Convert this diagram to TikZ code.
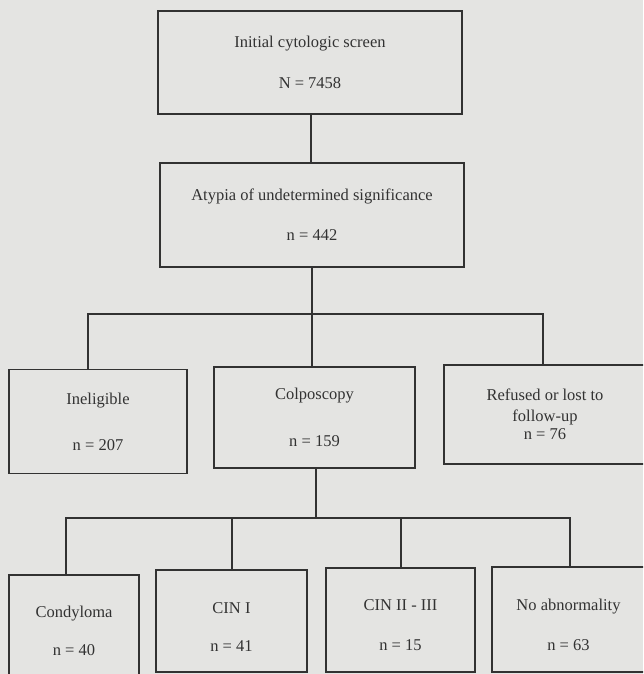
\documentclass[tikz,border=0pt]{standalone}
\usepackage{fontspec}
\setmainfont{Liberation Serif}
\definecolor{bgc}{RGB}{228,228,226}
\definecolor{ink}{RGB}{50,50,50}
\begin{document}
\begin{tikzpicture}[x=1pt,y=1pt,
  box/.style={draw=ink, line width=1.1pt, rectangle, inner sep=0pt, align=center,
    text=ink, font=\fontsize{16.5}{20}\selectfont},
  conn/.style={draw=ink, line width=1.3pt}]
\useasboundingbox (0,0) rectangle (643,-674);
\fill[bgc] (0,0) rectangle (643,-674);
\clip (0,0) rectangle (643,-674);
% top boxes
\node[box, minimum width=304, minimum height=103] (b1) at (310,-62.5)
  {Initial cytologic screen\\[21pt]N = 7458};
\node[box, minimum width=304, minimum height=104] (b2) at (312,-215)
  {Atypia of undetermined significance\\[20pt]n = 442};
% middle row
\node[box, minimum width=178, minimum height=104] (in) at (98,-421.5)
  {Ineligible\\[26pt]n = 207};
\node[box, minimum width=201, minimum height=101] (col) at (314.5,-417.5)
  {\rule{0pt}{4pt}Colposcopy\\[27pt]n = 159};
\node[box, minimum width=202, minimum height=99] (ref) at (545,-414.5)
  {Refused or lost to\\[1pt]follow-up\\[-2pt]n = 76};
% bottom row
\node[box, minimum width=130, minimum height=101] (con) at (74,-625.5)
  {\rule{0pt}{22pt}Condyloma\\[18pt]n = 40};
\node[box, minimum width=151, minimum height=102] (c1) at (231.5,-621)
  {\rule{0pt}{22pt}CIN I\\[18pt]n = 41};
\node[box, minimum width=149, minimum height=104] (c2) at (400.5,-620)
  {\rule{0pt}{22pt}CIN II - III\\[20pt]n = 15};
\node[box, minimum width=153, minimum height=105] (na) at (568.5,-619.5)
  {\rule{0pt}{22pt}No abnormality\\[20pt]n = 63};
% bus coordinates
\coordinate (busA) at (88,-314);
\coordinate (busB) at (543,-314);
\coordinate (busC) at (66,-518);
\coordinate (busD) at (570,-518);
\coordinate (t1) at (232,-518);
\coordinate (t2) at (401,-518);
% connectors
\draw[conn] ([xshift=1pt]b1.south) -- ([xshift=1pt]b1.south |- b2.north);
\draw[conn] (b2.south) -- (b2.south |- busA);
\draw[conn] (in.north -| busA) -- (busA) -- (busB) -- (busB |- ref.north);
\draw[conn] ([xshift=-2.5pt]col.north) -- ([xshift=-2.5pt]col.north |- busA);
\draw[conn] ([xshift=1.5pt]col.south) -- ([xshift=1.5pt]col.south |- busC);
\draw[conn] (con.north -| busC) -- (busC) -- (busD) -- (busD |- na.north);
\draw[conn] (t1) -- (t1 |- c1.north);
\draw[conn] (t2) -- (t2 |- c2.north);
\end{tikzpicture}
\end{document}
